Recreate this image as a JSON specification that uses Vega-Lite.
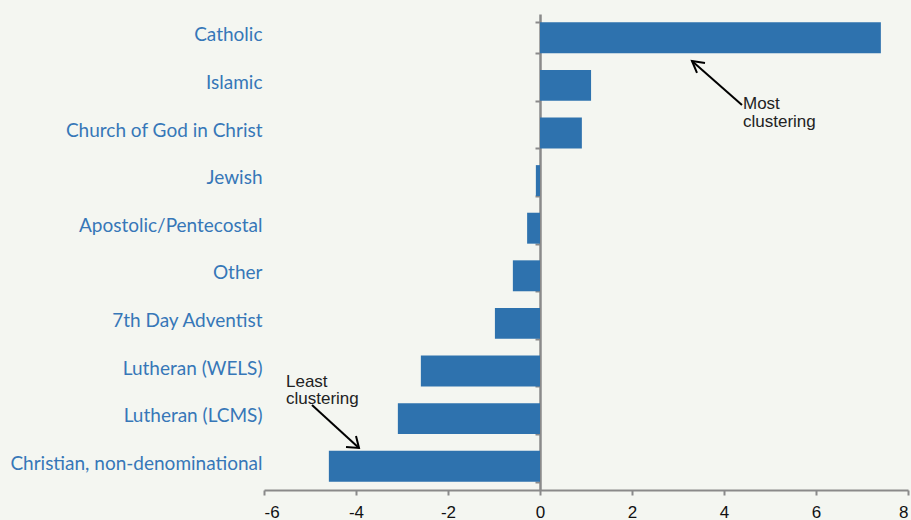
{
  "$schema": "https://vega.github.io/schema/vega-lite/v6.json",
  "width": 644,
  "height": 476,
  "autosize": {"type": "none"},
  "padding": {"left": 264, "top": 14, "right": 3, "bottom": 30},
  "background": "#f4f6f1",
  "config": {"view": {"stroke": null}},
  "resolve": {"scale": {"y": "independent"}, "axis": {"y": "independent"}},
  "layer": [
    {
      "data": {"values": [
        {"religion": "Catholic", "value": 7.41},
        {"religion": "Islamic", "value": 1.11},
        {"religion": "Church of God in Christ", "value": 0.91},
        {"religion": "Jewish", "value": -0.09},
        {"religion": "Apostolic/Pentecostal", "value": -0.28},
        {"religion": "Other", "value": -0.59},
        {"religion": "7th Day Adventist", "value": -0.98},
        {"religion": "Lutheran (WELS)", "value": -2.59},
        {"religion": "Lutheran (LCMS)", "value": -3.09},
        {"religion": "Christian, non-denominational", "value": -4.59}
      ]},
      "mark": {"type": "bar", "color": "#2e72ae"},
      "encoding": {
        "y": {
          "field": "religion", "type": "nominal", "sort": null,
          "scale": {"paddingInner": 0.35, "paddingOuter": 0.175},
          "axis": {
            "title": null, "orient": "left", "offset": -276,
            "domain": true, "domainColor": "#8a8a8a", "domainWidth": 2.5,
            "ticks": true, "tickBand": "extent", "tickSize": 5, "tickColor": "#8a8a8a", "tickWidth": 2,
            "labelPadding": 273, "labelLimit": 400, "labelOffset": -3,
            "labelFont": "Lato, sans-serif",
            "labelFontSize": 19, "labelColor": "#3677b8", "grid": false
          }
        },
        "x": {
          "field": "value", "type": "quantitative",
          "scale": {"domain": [-6, 8], "nice": false, "zero": false},
          "axis": {
            "title": null, "values": [-6, -4, -2, 0, 2, 4, 6, 8], "grid": false,
            "labelExpr": "'' + datum.value",
            "domainColor": "#8a8a8a", "domainWidth": 2,
            "tickColor": "#8a8a8a", "tickWidth": 2, "tickSize": 5,
            "labelFont": "Liberation Sans, Arial, sans-serif", "labelFontSize": 17,
            "labelColor": "#111111", "labelPadding": 9
          }
        }
      }
    },
    {
      "data": {"values": [
        {"seg": "m1", "ord": 1, "x": 4.391, "y": 1.912},
        {"seg": "m1", "ord": 2, "x": 3.304, "y": 0.987},
        {"seg": "m2", "ord": 1, "x": 3.413, "y": 1.239},
        {"seg": "m2", "ord": 2, "x": 3.304, "y": 0.987},
        {"seg": "m2", "ord": 3, "x": 3.587, "y": 1.029},
        {"seg": "l1", "ord": 1, "x": -4.957, "y": 8.214},
        {"seg": "l1", "ord": 2, "x": -3.935, "y": 9.118},
        {"seg": "l2", "ord": 1, "x": -4.217, "y": 9.097},
        {"seg": "l2", "ord": 2, "x": -3.935, "y": 9.118},
        {"seg": "l2", "ord": 3, "x": -4.0, "y": 8.866}
      ]},
      "mark": {"type": "line", "color": "#000000", "strokeWidth": 2},
      "encoding": {
        "x": {"field": "x", "type": "quantitative", "scale": {"domain": [-6, 8], "nice": false, "zero": false}},
        "y": {"field": "y", "type": "quantitative", "scale": {"domain": [0, 10], "nice": false, "zero": false, "reverse": true}, "axis": null},
        "detail": {"field": "seg"},
        "order": {"field": "ord"}
      }
    },
    {
      "data": {"values": [
        {"label": "Most\nclustering", "x": 4.413, "y": 2.002},
        {"label": "Least\nclustering", "x": -5.522, "y": 7.83}
      ]},
      "mark": {"type": "text", "align": "left", "baseline": "alphabetic", "lineBreak": "\n", "lineHeight": 17.5,
               "font": "Liberation Sans, Arial, sans-serif", "fontSize": 17, "color": "#222222"},
      "encoding": {
        "x": {"field": "x", "type": "quantitative", "scale": {"domain": [-6, 8], "nice": false, "zero": false}},
        "y": {"field": "y", "type": "quantitative", "scale": {"domain": [0, 10], "nice": false, "zero": false, "reverse": true}, "axis": null},
        "text": {"field": "label"}
      }
    }
  ]
}
